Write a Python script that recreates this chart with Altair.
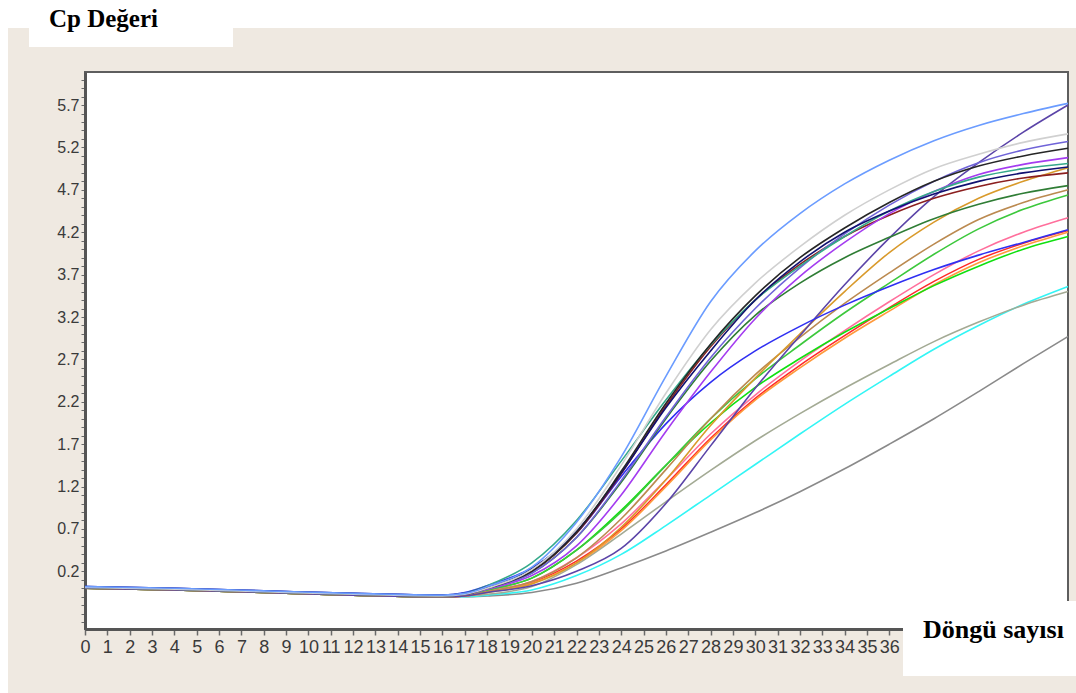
import altair as alt
import pandas as pd

# ---------------- data ----------------
cycles = [0, 4, 8, 12, 16, 17, 18, 20, 22, 24, 26, 28, 30, 32, 34, 36, 38, 40, 42, 44]

gray      = [0.00, -0.02, -0.05, -0.08, -0.10, -0.10, -0.09, -0.05, 0.06, 0.24, 0.44, 0.66, 0.89, 1.14, 1.41, 1.70, 2.00, 2.32, 2.65, 2.97]
cyan      = [0.00, -0.02, -0.05, -0.08, -0.10, -0.10, -0.08, -0.02, 0.15, 0.40, 0.74, 1.10, 1.46, 1.82, 2.17, 2.50, 2.82, 3.10, 3.35, 3.56]
sage      = [0.00, -0.02, -0.05, -0.08, -0.10, -0.09, -0.07, 0.02, 0.28, 0.64, 1.02, 1.39, 1.74, 2.06, 2.36, 2.64, 2.91, 3.14, 3.34, 3.50]
red       = [0.00, -0.02, -0.05, -0.08, -0.10, -0.09, -0.04, 0.07, 0.32, 0.70, 1.22, 1.77, 2.24, 2.63, 2.98, 3.31, 3.62, 3.88, 4.07, 4.22]
orange    = [0.00, -0.02, -0.05, -0.08, -0.10, -0.09, -0.04, 0.06, 0.30, 0.68, 1.20, 1.75, 2.22, 2.60, 2.95, 3.27, 3.58, 3.84, 4.04, 4.20]
pink      = [0.00, -0.02, -0.05, -0.08, -0.10, -0.09, -0.03, 0.08, 0.36, 0.76, 1.28, 1.82, 2.28, 2.68, 3.04, 3.38, 3.70, 3.98, 4.20, 4.37]
green2    = [0.00, -0.02, -0.05, -0.08, -0.10, -0.08, -0.02, 0.12, 0.45, 0.92, 1.45, 1.95, 2.37, 2.71, 3.02, 3.30, 3.57, 3.80, 4.00, 4.15]
green1    = [0.00, -0.02, -0.05, -0.08, -0.10, -0.08, -0.02, 0.12, 0.45, 0.90, 1.45, 2.00, 2.47, 2.87, 3.25, 3.60, 3.94, 4.24, 4.47, 4.64]
peru      = [0.00, -0.02, -0.05, -0.08, -0.10, -0.09, -0.04, 0.08, 0.36, 0.82, 1.40, 2.00, 2.52, 2.96, 3.36, 3.72, 4.06, 4.35, 4.55, 4.70]
goldenrod = [0.00, -0.02, -0.05, -0.08, -0.10, -0.09, -0.05, 0.05, 0.30, 0.72, 1.28, 1.92, 2.48, 3.00, 3.50, 3.96, 4.32, 4.60, 4.80, 4.96]
slate     = [0.00, -0.02, -0.05, -0.08, -0.10, -0.09, -0.05, 0.03, 0.20, 0.47, 1.00, 1.68, 2.36, 2.98, 3.58, 4.13, 4.62, 5.02, 5.38, 5.70]
blue      = [0.02, 0.00, -0.03, -0.06, -0.08, -0.05, 0.03, 0.24, 0.65, 1.32, 1.94, 2.43, 2.80, 3.09, 3.34, 3.56, 3.76, 3.93, 4.08, 4.23]
darkgreen = [0.01, -0.01, -0.04, -0.07, -0.09, -0.07, 0.00, 0.18, 0.60, 1.25, 2.00, 2.68, 3.22, 3.60, 3.90, 4.14, 4.36, 4.53, 4.66, 4.75]
maroon    = [0.01, -0.01, -0.04, -0.07, -0.09, -0.07, 0.00, 0.20, 0.65, 1.35, 2.15, 2.85, 3.40, 3.82, 4.15, 4.40, 4.60, 4.74, 4.84, 4.90]
violet    = [0.01, -0.01, -0.04, -0.07, -0.09, -0.07, -0.01, 0.15, 0.50, 1.10, 1.85, 2.55, 3.18, 3.68, 4.08, 4.42, 4.68, 4.88, 5.00, 5.08]
medslate  = [0.01, -0.01, -0.04, -0.07, -0.09, -0.07, 0.00, 0.18, 0.60, 1.27, 2.02, 2.72, 3.30, 3.78, 4.18, 4.52, 4.80, 5.02, 5.17, 5.27]
teal      = [0.01, -0.01, -0.04, -0.07, -0.09, -0.06, 0.03, 0.30, 0.80, 1.50, 2.22, 2.87, 3.40, 3.80, 4.15, 4.45, 4.68, 4.85, 4.95, 5.01]
navy      = [0.02, 0.00, -0.03, -0.06, -0.08, -0.06, 0.02, 0.23, 0.67, 1.36, 2.13, 2.80, 3.40, 3.85, 4.20, 4.45, 4.65, 4.80, 4.90, 4.97]
black     = [0.01, -0.01, -0.04, -0.07, -0.09, -0.07, 0.00, 0.20, 0.66, 1.38, 2.18, 2.88, 3.45, 3.90, 4.25, 4.55, 4.80, 4.98, 5.10, 5.19]
lightgray = [0.01, -0.01, -0.04, -0.07, -0.09, -0.07, 0.00, 0.22, 0.70, 1.45, 2.30, 3.05, 3.60, 4.03, 4.40, 4.70, 4.95, 5.12, 5.26, 5.36]
lightblue = [0.02, 0.00, -0.03, -0.06, -0.08, -0.06, 0.02, 0.25, 0.78, 1.55, 2.50, 3.38, 3.98, 4.42, 4.77, 5.05, 5.28, 5.46, 5.60, 5.72]

sample_names = ["gray", "cyan", "sage", "red", "orange", "pink", "green2", "green1",
                "peru", "goldenrod", "slate", "blue", "darkgreen", "maroon", "violet",
                "medslate", "teal", "navy", "black", "lightgray", "lightblue"]
sample_colors = ["#8a8a8a", "#33f5f5", "#a3aa94", "#ff2a2a", "#ff9a3c", "#ff6f9c", "#10e010", "#3cc83c",
                 "#bb8a50", "#d99a2b", "#5b44a8", "#2f2ff2", "#2f7d35", "#8b1f1f", "#a43cf0",
                 "#6f63d8", "#35a98a", "#101070", "#262626", "#d0d0d0", "#6b9cff"]
series = [gray, cyan, sage, red, orange, pink, green2, green1, peru, goldenrod, slate, blue,
          darkgreen, maroon, violet, medslate, teal, navy, black, lightgray, lightblue]

x_ticks = list(range(0, 45))
x_last_label = 36
y_ticks = [round(-0.4 + 0.1 * i, 1) for i in range(0, 65)]
y_labels = ["0.2", "0.7", "1.2", "1.7", "2.2", "2.7", "3.2", "3.7", "4.2", "4.7", "5.2", "5.7"]

title_y = ["Cp Değeri"]
title_x = ["Döngü sayısı"]

# ---------------- build table ----------------
rows = []
for k, (name, vals) in enumerate(zip(sample_names, series)):
    for c, v in zip(cycles, vals):
        rows.append({"cycle": c, "value": v, "sample": name, "k": k})
df = pd.DataFrame(rows)

W, H = 983, 557
PL, PT, PR, PB = 85, 72, 8, 64

x_scale = alt.Scale(domain=[0, 44], nice=False)
y_scale = alt.Scale(domain=[-0.48, 6.09], nice=False, zero=False)

label_list = "[" + ",".join("'%s'" % s for s in y_labels) + "]"

lines = alt.Chart(df).mark_line(strokeWidth=1.6, interpolate="monotone").encode(
    x=alt.X("cycle:Q", scale=x_scale,
            axis=alt.Axis(values=x_ticks, title=None, grid=False, labelOverlap=False,
                          labelFlush=False, labelBound=False,
                          labelExpr="datum.value <= %d ? format(datum.value, 'd') : ''" % x_last_label,
                          labelFont="Liberation Sans", labelFontSize=18,
                          labelColor="#3a3a3a", labelPadding=3,
                          tickSize=6, tickColor="#6a6a6a", tickWidth=1.5,
                          domainColor="#555555", domainWidth=3)),
    y=alt.Y("value:Q", scale=y_scale,
            axis=alt.Axis(values=y_ticks, title=None, grid=False,
                          labelExpr="indexof(" + label_list + ", format(datum.value, '.1f')) >= 0 ? format(datum.value, '.1f') : ''",
                          labelOverlap=False, labelFont="Liberation Sans", labelFontSize=16,
                          labelColor="#3a3a3a", labelPadding=2,
                          tickSize=4, tickColor="#6a6a6a", tickWidth=1,
                          domainColor="#555555", domainWidth=3)),
    color=alt.Color("sample:N", scale=alt.Scale(domain=sample_names, range=sample_colors), legend=None),
    order=alt.Order("k:Q"),
)

dummy = pd.DataFrame({"a": [0]})

# white page area outside the beige panel
white_top = alt.Chart(dummy).mark_rect(color="white").encode(
    x=alt.value(-PL), x2=alt.value(W + PR), y=alt.value(-PT), y2=alt.value(-PT + 28))
white_left = alt.Chart(dummy).mark_rect(color="white").encode(
    x=alt.value(-PL), x2=alt.value(-PL + 8), y=alt.value(-PT), y2=alt.value(H + PB))

# white boxes behind the two titles
box_y = alt.Chart(dummy).mark_rect(color="white").encode(
    x=alt.value(29 - PL), x2=alt.value(233 - PL), y=alt.value(-PT), y2=alt.value(47 - PT))
box_x = alt.Chart(dummy).mark_rect(color="white").encode(
    x=alt.value(903 - PL), x2=alt.value(W + PR), y=alt.value(601 - PT), y2=alt.value(676 - PT))

txt_y = alt.Chart(pd.DataFrame({"t": title_y})).mark_text(
    font="Liberation Serif", fontWeight="bold", fontSize=25, align="left",
    baseline="alphabetic", color="black").encode(
    x=alt.value(49 - PL), y=alt.value(27 - PT), text="t:N")
txt_x = alt.Chart(pd.DataFrame({"t": title_x})).mark_text(
    font="Liberation Serif", fontWeight="bold", fontSize=26, align="left",
    baseline="alphabetic", color="black").encode(
    x=alt.value(923 - PL), y=alt.value(638 - PT), text="t:N")

chart = alt.layer(white_top, white_left, lines, box_y, box_x, txt_y, txt_x).properties(
    width=W, height=H,
    padding={"left": PL, "top": PT, "right": PR, "bottom": PB},
    autosize=alt.AutoSizeParams(type="none"),
    background="#efe9e1",
).configure_view(
    fill="white", stroke="#5e5e5e", strokeWidth=2
)

chart.save("out.html", embed_options={"renderer": "svg", "actions": False})
